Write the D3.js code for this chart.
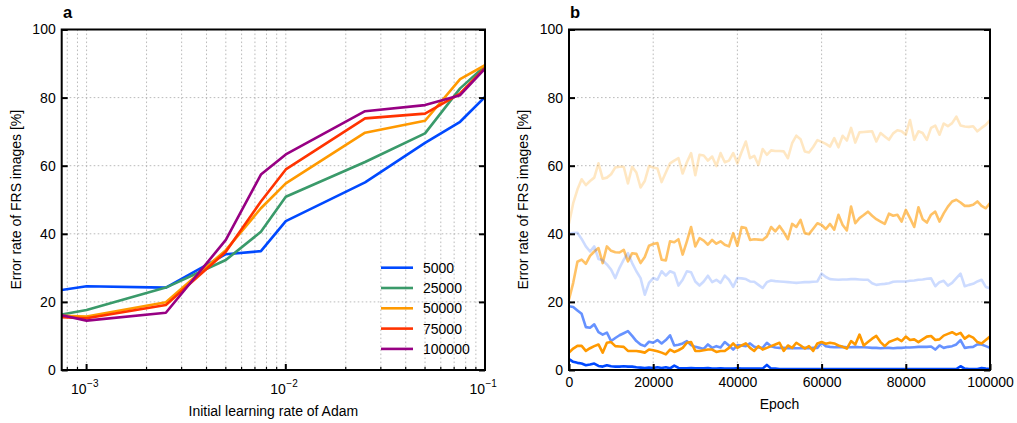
<!DOCTYPE html>
<html>
<head>
<meta charset="utf-8">
<script src="https://cdn.jsdelivr.net/npm/d3@7"></script>
<style>
  body { margin: 0; background: #fff; }
  svg { font-family: "Liberation Sans", Arial, sans-serif; }
  .tick text { font-size: 14px; fill: #000; }
</style>
</head>
<body>
<svg width="1017" height="423"></svg>
<script>
/* globals d3 */

// ---- panel a: error rate vs. initial learning rate, one line per iteration count
const learningRates = [0.00075, 0.001, 0.0025, 0.005, 0.0075, 0.01, 0.025, 0.05, 0.075, 0.1];
const iterLabels = ['5000', '25000', '50000', '75000', '100000'];
const err5000 = [23.5, 24.6, 24.2, 34.0, 34.9, 43.7, 55.1, 66.7, 72.9, 80.2];
const err25000 = [16.3, 17.6, 24.2, 32.3, 40.6, 50.9, 61.1, 69.5, 82.7, 89.3];
const err50000 = [15.9, 15.7, 19.9, 35.2, 47.5, 54.8, 69.7, 73.2, 85.4, 89.5];
const err75000 = [15.5, 15.2, 19.1, 34.7, 49.5, 58.9, 73.9, 75.3, 81.2, 88.7];
const err100000 = [16.1, 14.5, 16.8, 38.2, 57.4, 63.3, 76.0, 77.8, 80.7, 88.5];
const lrTicks = [0.001, 0.01, 0.1];
const lrTickExp = ['−3', '−2', '−1'];

// ---- panel b: error rate vs. epoch
const epochs = [
  0, 1000, 2000, 3000, 4000, 5000, 6000, 7000, 8000, 9000,
  10000, 11000, 12000, 13000, 14000, 15000, 16000, 17000, 18000, 19000,
  20000, 21000, 22000, 23000, 24000, 25000, 26000, 27000, 28000, 29000,
  30000, 31000, 32000, 33000, 34000, 35000, 36000, 37000, 38000, 39000,
  40000, 41000, 42000, 43000, 44000, 45000, 46000, 47000, 48000, 49000,
  50000, 51000, 52000, 53000, 54000, 55000, 56000, 57000, 58000, 59000,
  60000, 61000, 62000, 63000, 64000, 65000, 66000, 67000, 68000, 69000,
  70000, 71000, 72000, 73000, 74000, 75000, 76000, 77000, 78000, 79000,
  80000, 81000, 82000, 83000, 84000, 85000, 86000, 87000, 88000, 89000,
  90000, 91000, 92000, 93000, 94000, 95000, 96000, 97000, 98000, 99000,
  100000
];
const orangeLight = [
  43, 49, 53, 56, 54.3, 55.5, 56.5, 60.7, 56.2, 56.5,
  57.5, 59.5, 59.7, 59.7, 54.8, 59.7, 58, 53.6, 55.5, 59.9,
  59.5, 59.2, 55.2, 58, 60.7, 61.5, 62.2, 57.7, 61, 63.7,
  57.2, 63.2, 63, 61.5, 62.7, 59.9, 63.7, 61, 61.5, 63.7,
  60.7, 64, 67.1, 62.2, 62.9, 60.2, 64.9, 63.2, 64.5, 64.3,
  64.3, 64.2, 62.2, 66.6, 68.8, 67.8, 64.2, 63.9, 65.5, 67.5,
  67, 66.4, 65.6, 68.1, 65.4, 68.8, 67.4, 71.1, 66.8, 69.8,
  69.9, 70, 70.1, 67.1, 69.6, 68.6, 67.6, 69.5, 70.4, 70.1,
  69.1, 73.4, 67.6, 70.1, 69.6, 67.6, 71.1, 71.8, 69.1, 72.4,
  71.6, 72.5, 74.4, 71.8, 71.5, 71.4, 71.6, 70.1, 71.1, 72,
  73.4
];
const orangeMid = [
  20.7, 25.6, 31.8, 32.4, 31.2, 33.5, 34.8, 35.8, 31.4, 36.3,
  35, 34.6, 34.5, 35.3, 31.9, 34.3, 34.1, 31.4, 33.2, 36.5,
  37, 37.3, 32.4, 32.2, 37.8, 37.5, 38.4, 33.9, 37.8, 42,
  36.3, 38.7, 38, 36.8, 38.2, 37.1, 37.8, 36.8, 36.3, 40.2,
  36.5, 42, 41.7, 38.2, 38.4, 38.3, 38.2, 39.2, 42, 40.7,
  42.3, 40.5, 38.4, 42.9, 42, 44.1, 40.2, 39.9, 41.5, 43.1,
  42.6, 41.4, 42.9, 41.2, 45.6, 42.6, 41, 48, 43.1, 44.6,
  45.5, 46.5, 45.3, 44.3, 43.6, 42.9, 45.9, 45.3, 45.6, 43.6,
  47, 44.6, 42, 47.8, 44.3, 43.3, 45.6, 46.5, 43.6, 46,
  48, 49.5, 50, 49.2, 48.2, 48.2, 48.5, 49.5, 48.2, 47.5,
  49
];
const orangeDark = [
  5.1, 6.3, 7.1, 7.1, 5.6, 6.4, 7, 7.5, 5.1, 8,
  8.2, 7, 6.9, 6.8, 5.6, 5.6, 5.6, 5.4, 5.1, 6,
  5.8, 5.5, 5.1, 4.6, 6, 5.3, 5.8, 6.5, 8, 8.2,
  5.6, 5.6, 5.8, 6, 6, 5.3, 5.6, 5.6, 6.5, 7.8,
  6.5, 7.2, 7.8, 6.5, 5.6, 7, 6, 6.5, 7, 7.5,
  8, 5.6, 7.2, 6.5, 8, 7.2, 6.3, 7, 5.6, 7.8,
  8.2, 7.7, 8, 7.8, 7.2, 6.8, 6.3, 8.5, 7.5, 10.4,
  7.2, 8.2, 9.2, 10, 8.2, 7, 8.2, 8.7, 9.2, 8.5,
  9.8, 8.8, 9, 8.2, 9, 9.8, 10, 8.8, 9, 10.1,
  10.6, 11.1, 10.4, 10.9, 9.2, 10.1, 9.5, 8.2, 7.8, 8.8,
  9.8
];
const blueLight = [
  40, 40.2, 40.3, 38.5, 36.3, 34.8, 36.3, 32.6, 32.2, 31,
  29.5, 27, 30, 32.4, 34.3, 31.4, 29, 27, 22.1, 25.6,
  27, 26.5, 29, 27.7, 29, 28.5, 24.8, 26.5, 29, 28.7,
  26, 24.8, 26, 27.7, 25.8, 26.5, 25.6, 27.7, 26.5, 24.4,
  27, 26.9, 26.7, 26, 25.9, 25, 24.1, 25.8, 26.3, 26.1,
  26, 25.9, 25.8, 25.7, 25.6, 25.7, 25.8, 25.8, 25.9, 26,
  28.3, 27.3, 26.7, 26.6, 26.5, 26.6, 26.6, 26.7, 26.7, 26.6,
  26.5, 26.5, 25.5, 25, 25.2, 25.3, 25.5, 25.9, 26, 26,
  26, 26.2, 26.3, 26.5, 26.6, 26.8, 26.9, 24.6, 25.8, 26.2,
  24.8, 25.6, 27, 28.3, 24.6, 25, 25.3, 26, 26.5, 24.4,
  24
];
const blueMid = [
  18.7, 18.5, 17.5, 16.5, 12.6, 12.4, 13.4, 11.1, 10.4, 11,
  8.5, 9.4, 10.2, 10.8, 11.4, 10, 8.5, 7.5, 7, 8.3,
  8, 8.8, 7.8, 8.8, 10.2, 7.2, 7.4, 7.8, 8.5, 7.3,
  6.8, 6.5, 6.2, 7.5, 6.5, 7, 6.6, 8.2, 7.2, 6,
  7.3, 7.2, 7, 7.8, 6.8, 6.6, 6.5, 8, 7, 6.6,
  6.5, 6.5, 6.4, 6.5, 6.4, 6.4, 6.5, 6.4, 6.5, 6.5,
  8, 7, 6.8, 6.7, 6.7, 6.8, 6.7, 6.7, 6.8, 6.7,
  6.7, 6.6, 6.5, 6.5, 6.4, 6.5, 6.5, 6.4, 6.5, 6.5,
  6.6, 6.6, 6.7, 6.8, 6.8, 6.8, 6.9, 6, 7.2, 6.5,
  6.8, 7, 7.5, 8.8, 6.5, 6.7, 6.8, 7.5, 7.5, 7,
  6.5
];
const blueDark = [
  3.2, 2.4, 2.1, 1.9, 1.4, 1.6, 1.9, 1.2, 1.0, 1.4,
  1.1, 1.0, 1.0, 1.1, 1.0, 1.0, 0.8, 0.7, 0.6, 0.7,
  0.6, 0.8, 0.6, 0.8, 0.5, 1.3, 0.6, 0.5, 0.5, 0.6,
  0.5, 0.5, 0.5, 0.6, 0.4, 0.4, 0.5, 0.4, 0.4, 0.4,
  0.5, 0.4, 0.4, 0.4, 0.4, 0.4, 0.4, 1.5, 0.4, 0.4,
  0.3, 0.3, 0.3, 0.3, 0.3, 0.3, 0.3, 0.3, 0.3, 0.3,
  0.3, 0.3, 0.3, 0.3, 0.3, 0.3, 0.3, 0.3, 0.3, 0.3,
  0.3, 0.3, 0.3, 0.3, 0.3, 0.3, 0.3, 0.3, 0.3, 0.3,
  0.3, 0.3, 0.3, 0.3, 0.3, 0.3, 0.3, 0.3, 0.3, 0.3,
  0.3, 0.3, 0.3, 1.1, 0.4, 0.3, 0.3, 0.3, 0.6, 0.4,
  0.3
];
const epochTicks = [0, 20000, 40000, 60000, 80000, 100000];
const errTicks = [0, 20, 40, 60, 80, 100];

const blue = '#0049ff';
const orange = '#ff9900';
const colorsA = [blue, '#3a9a6a', orange, '#ff3300', '#970083'];
const seriesA = [err5000, err25000, err50000, err75000, err100000];
const seriesB = [
  { values: orangeLight, color: orange, opacity: 0.24 },
  { values: orangeMid, color: orange, opacity: 0.6 },
  { values: blueLight, color: blue, opacity: 0.2 },
  { values: blueMid, color: blue, opacity: 0.6 },
  { values: orangeDark, color: orange, opacity: 1 },
  { values: blueDark, color: blue, opacity: 1 }
];

const svg = d3.select('svg');
const plotTop = 29.5;
const plotBottom = 370;

const y = d3.scaleLinear().domain([0, 100]).range([plotBottom, plotTop]);

function gridLine(g, x1, y1, x2, y2) {
  g.append('line')
    .attr('x1', x1).attr('y1', y1).attr('x2', x2).attr('y2', y2)
    .attr('stroke', '#b3b3b3')
    .attr('stroke-width', 0.9)
    .attr('stroke-dasharray', '1.6,2.4');
}

function yAxes(g, x0, x1) {
  g.append('g')
    .attr('transform', `translate(${x0},0)`)
    .call(d3.axisLeft(y).tickValues(errTicks).tickSize(-6).tickPadding(6))
    .call(a => a.select('.domain').remove())
    .call(a => a.selectAll('line').attr('stroke', '#000').attr('stroke-width', 2));
  g.append('g')
    .attr('transform', `translate(${x1},0)`)
    .call(d3.axisRight(y).tickValues(errTicks).tickSize(-6).tickFormat(''))
    .call(a => a.select('.domain').remove())
    .call(a => a.selectAll('line').attr('stroke', '#000').attr('stroke-width', 2));
}

function frame(g, x0, x1) {
  g.append('rect')
    .attr('x', x0).attr('y', plotTop)
    .attr('width', x1 - x0).attr('height', plotBottom - plotTop)
    .attr('fill', 'none')
    .attr('stroke', '#000')
    .attr('stroke-width', 2);
}

function yLabel(g, cx) {
  g.append('text')
    .attr('transform', `translate(${cx},${(plotTop + plotBottom) / 2}) rotate(-90)`)
    .attr('text-anchor', 'middle')
    .attr('font-size', 14)
    .text('Error rate of FRS images [%]');
}

// ================= panel a =================
const ax0 = 61.7;
const ax1 = 485;
const xa = d3.scaleLog().domain([0.00075, 0.1]).range([ax0, ax1]);
const ga = svg.append('g');

// grid (majors + minors on the log axis)
const minorA = [];
[0.0001, 0.001, 0.01].forEach(base => {
  for (let m = 1; m <= 9; m++) {
    const v = base * m;
    if (v > 0.00075 && v < 0.1) minorA.push(v);
  }
});
minorA.forEach(v => gridLine(ga, xa(v), plotTop, xa(v), plotBottom));
[20, 40, 60, 80].forEach(v => gridLine(ga, ax0, y(v), ax1, y(v)));

svg.append('clipPath').attr('id', 'clipA')
  .append('rect').attr('x', ax0).attr('y', plotTop).attr('width', ax1 - ax0).attr('height', plotBottom - plotTop);

const lineA = d3.line()
  .x((d, i) => xa(learningRates[i]))
  .y(d => y(d));

ga.append('g')
  .attr('clip-path', 'url(#clipA)')
  .selectAll('path')
  .data(seriesA)
  .join('path')
  .attr('d', lineA)
  .attr('fill', 'none')
  .attr('stroke', (d, i) => colorsA[i])
  .attr('stroke-width', 2.6)
  .attr('stroke-linejoin', 'round');

// x ticks: minors short, majors long, pointing inward
ga.append('g')
  .selectAll('line')
  .data(minorA.filter(v => lrTicks.indexOf(v) < 0))
  .join('line')
  .attr('x1', d => xa(d)).attr('x2', d => xa(d))
  .attr('y1', plotBottom).attr('y2', plotBottom - 3)
  .attr('stroke', '#000').attr('stroke-width', 1.2);
ga.append('g')
  .selectAll('line')
  .data(lrTicks)
  .join('line')
  .attr('x1', d => xa(d)).attr('x2', d => xa(d))
  .attr('y1', plotBottom).attr('y2', plotBottom - 6)
  .attr('stroke', '#000').attr('stroke-width', 2);

const lrLabels = ga.append('g').selectAll('g')
  .data(lrTicks)
  .join('g')
  .attr('transform', d => `translate(${xa(d)},${plotBottom})`);
lrLabels.append('text')
  .attr('x', 0).attr('y', 23.5)
  .attr('text-anchor', 'end')
  .attr('font-size', 14)
  .text('10');
lrLabels.append('text')
  .attr('x', 0.5).attr('y', 16.5)
  .attr('text-anchor', 'start')
  .attr('font-size', 10)
  .text((d, i) => lrTickExp[i]);

yAxes(ga, ax0, ax1);
frame(ga, ax0, ax1);
yLabel(ga, 21);

ga.append('text')
  .attr('x', (ax0 + ax1) / 2).attr('y', 416)
  .attr('text-anchor', 'middle')
  .attr('font-size', 14)
  .text('Initial learning rate of Adam');

ga.append('text')
  .attr('x', 63).attr('y', 18)
  .attr('font-size', 16.5)
  .attr('font-weight', 'bold')
  .text('a');

// legend
const legend = ga.append('g').attr('transform', 'translate(381,267.7)');
const legendRows = legend.selectAll('g')
  .data(iterLabels)
  .join('g')
  .attr('transform', (d, i) => `translate(0,${i * 20.3})`);
legendRows.append('line')
  .attr('x1', 0).attr('x2', 32)
  .attr('stroke', (d, i) => colorsA[i])
  .attr('stroke-width', 2.6);
legendRows.append('text')
  .attr('x', 42).attr('dy', '0.35em')
  .attr('font-size', 14)
  .text(d => d);

// ================= panel b =================
const bx0 = 569;
const bx1 = 990;
const xb = d3.scaleLinear().domain([0, 100000]).range([bx0, bx1]);
const gb = svg.append('g');

[20000, 40000, 60000, 80000].forEach(v => gridLine(gb, xb(v), plotTop, xb(v), plotBottom));
[20, 40, 60, 80].forEach(v => gridLine(gb, bx0, y(v), bx1, y(v)));

const lineB = d3.line()
  .x((d, i) => xb(epochs[i]))
  .y(d => y(d));

gb.append('g')
  .selectAll('path')
  .data(seriesB)
  .join('path')
  .attr('d', d => lineB(d.values))
  .attr('fill', 'none')
  .attr('stroke', d => d.color)
  .attr('stroke-opacity', d => d.opacity)
  .attr('stroke-width', 2.6)
  .attr('stroke-linejoin', 'round');

gb.append('g')
  .attr('transform', `translate(0,${plotBottom})`)
  .call(d3.axisBottom(xb).tickValues(epochTicks).tickSize(-6).tickPadding(7).tickFormat(d3.format('d')))
  .call(a => a.select('.domain').remove())
  .call(a => a.selectAll('line').attr('stroke', '#000').attr('stroke-width', 2));

yAxes(gb, bx0, bx1);
frame(gb, bx0, bx1);
yLabel(gb, 528);

gb.append('text')
  .attr('x', (bx0 + bx1) / 2).attr('y', 408.5)
  .attr('text-anchor', 'middle')
  .attr('font-size', 14)
  .text('Epoch');

gb.append('text')
  .attr('x', 570).attr('y', 18)
  .attr('font-size', 16.5)
  .attr('font-weight', 'bold')
  .text('b');
</script>
</body>
</html>
